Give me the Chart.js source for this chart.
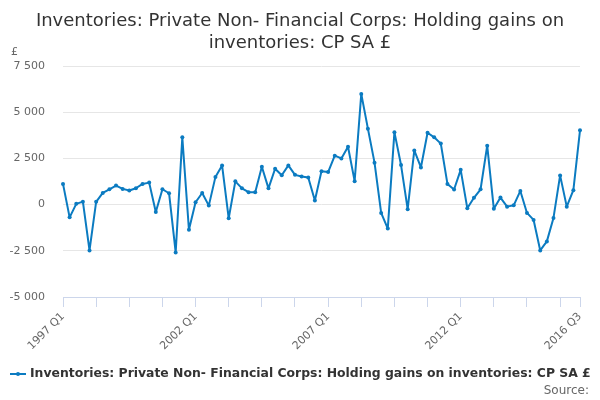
<!DOCTYPE html>
<html>
<head>
<meta charset="utf-8">
<script src="https://cdn.jsdelivr.net/npm/chart.js@4.4.1/dist/chart.umd.min.js"></script>
<style>
  html, body { margin: 0; padding: 0; background: #fff; }
  #wrap { position: relative; width: 600px; height: 400px; overflow: hidden; font-family: "DejaVu Sans", sans-serif; }
  #c { position: absolute; left: 0; top: 0; }
  .t { position: absolute; white-space: nowrap; }
  #title { left: 0; width: 600px; top: 9px; text-align: center; font-size: 18px; color: #333; line-height: 22px; }
  #unit { left: 11px; top: 45px; font-size: 11px; color: #666; }
  #legend { left: 10px; top: 365px; font-size: 12.4px; font-weight: bold; color: #333; }
  #legend .sym { display: inline-block; position: relative; width: 16px; height: 12px; vertical-align: middle; margin-right: 4px; }
  #legend .sym:before { content: ""; position: absolute; left: 0; right: 0; top: 5px; height: 2px; background: #0b7bc1; }
  #legend .sym:after { content: ""; position: absolute; left: 6px; top: 4px; width: 4px; height: 4px; border-radius: 2px; background: #0b7bc1; }
  #source { right: 11px; top: 383px; font-size: 12px; color: #666; }
</style>
</head>
<body>
<div id="wrap">
  <canvas id="c" width="600" height="400"></canvas>
  <div class="t" id="title">Inventories: Private Non- Financial Corps: Holding gains on<br>inventories: CP SA £</div>
  <div class="t" id="unit">£</div>
  <div class="t" id="legend"><span class="sym"></span>Inventories: Private Non- Financial Corps: Holding gains on inventories: CP SA £</div>
  <div class="t" id="source">Source:</div>
</div>
<script>
const seriesName = "Inventories: Private Non- Financial Corps: Holding gains on inventories: CP SA £";
const years = [1997,1998,1999,2000,2001,2002,2003,2004,2005,2006,2007,2008,2009,2010,2011,2012,2013,2014,2015,2016];
const quarters = ["Q1","Q2","Q3","Q4"];
const categories = [];
years.forEach(y => quarters.forEach(q => { if (!(y === 2016 && q === "Q4")) categories.push(y + " " + q); }));
const values = [
  1120, -690, 40, 160,
  -2480, 150, 630, 830,
  1030, 850, 760, 885,
  1120, 1190, -400, 830,
  615, -2590, 3640, -1360,
  125, 630, -55, 1500,
  2120, -740, 1260, 880,
  670, 670, 2050, 880,
  1940, 1590, 2120, 1610,
  1520, 1470, 220, 1810,
  1760, 2650, 2500, 3130,
  1270, 5990, 4110, 2270,
  -450, -1300, 3920, 2140,
  -250, 2930, 2010, 3890,
  3640, 3300, 1120, 820,
  1880, -200, 370, 830,
  3190, -230, 380, -110,
  -40, 740, -450, -830,
  -2480, -1990, -720, 1580,
  -110, 780, 4020
];
const yTicks = [-5000, -2500, 0, 2500, 5000, 7500];
const xLabelStep = 20;
const xTickStep = 5;

const blue = "#0b7bc1";
function fmt(v) {
  const s = Math.abs(v).toString().replace(/\B(?=(\d{3})+(?!\d))/g, " ");
  return (v < 0 ? "-" : "") + s;
}
const last = categories.length - 1;

new Chart(document.getElementById("c"), {
  type: "line",
  data: {
    labels: categories,
    datasets: [{
      label: seriesName,
      data: values,
      borderColor: blue,
      backgroundColor: blue,
      borderWidth: 2,
      borderJoinStyle: "round",
      borderCapStyle: "round",
      pointRadius: 2,
      pointHoverRadius: 2,
      pointBackgroundColor: blue,
      pointBorderWidth: 0,
      tension: 0
    }]
  },
  options: {
    responsive: false,
    animation: false,
    events: [],
    layout: { padding: { left: 0, right: 20, top: 66, bottom: 42 } },
    plugins: { legend: { display: false }, title: { display: false }, tooltip: { enabled: false } },
    scales: {
      x: {
        type: "category",
        offset: false,
        afterFit: s => { s.height = 61; },
        border: { display: true, color: "#ccd6eb", width: 1 },
        grid: {
          drawOnChartArea: false,
          drawTicks: true,
          tickLength: 10,
          color: ctx => (ctx.index % xTickStep === 0 || ctx.index === last) ? "#ccd6eb" : "rgba(0,0,0,0)"
        },
        ticks: {
          autoSkip: false,
          maxRotation: 45,
          minRotation: 45,
          padding: 3,
          color: "#666",
          font: { family: "DejaVu Sans", size: 11 },
          callback: (v, i) => (i % xLabelStep === 0 || i === last) ? categories[i] : ""
        }
      },
      y: {
        min: -5000,
        max: 7500,
        afterFit: s => { s.width = 63; },
        afterBuildTicks: s => { s.ticks = yTicks.map(v => ({ value: v })); },
        border: { display: false },
        grid: { color: "#e6e6e6", lineWidth: 1, drawTicks: false },
        ticks: {
          padding: 18,
          color: "#666",
          font: { family: "DejaVu Sans", size: 11 },
          callback: v => fmt(v)
        }
      }
    }
  }
});
</script>
</body>
</html>
